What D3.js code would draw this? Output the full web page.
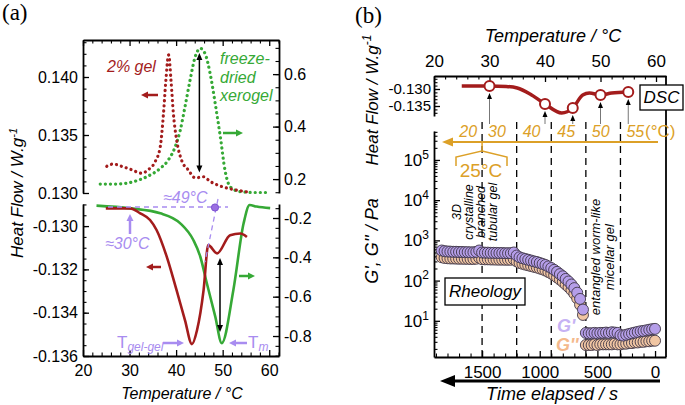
<!DOCTYPE html>
<html><head><meta charset="utf-8">
<script src="https://cdn.jsdelivr.net/npm/d3@7"></script>
<style>
body{margin:0;background:#fff;}
svg{display:block;font-family:"Liberation Sans",Arial,sans-serif;}
</style></head><body>
<script>
// ---------------- DATA ----------------
// Panel (a), upper: dotted curves
const gelTopT  = [25.1,26.5,28.3,30.5,32.6,34.0,35.5,36.6,37.3,37.8,38.4,38.9,39.4,40.1,41.2,42.6,44.1,45.9,47.3,49.5,52.3,55.2];
const gelTopV  = [0.1323,0.1325,0.1323,0.1320,0.1317,0.1320,0.1327,0.1340,0.1369,0.1397,0.1419,0.1397,0.1369,0.1346,0.1328,0.1320,0.1313,0.1314,0.1310,0.1306,0.1303,0.1301];
const xeroTopT = [23.7,27.2,30.8,33.7,36.6,38.3,39.8,40.9,41.9,43.0,44.1,45.2,46.2,47.3,48.4,49.5,50.5,51.6,53.8,56.6,60.2];
const xeroTopV = [0.181,0.181,0.190,0.209,0.241,0.272,0.323,0.387,0.475,0.577,0.666,0.698,0.679,0.603,0.488,0.361,0.234,0.171,0.152,0.149,0.149];
// Panel (a), lower: solid curves
const gelBotT  = [24.9,30.1,32.3,34.4,35.8,38.0,40.1,41.9,43.4,44.5,45.9,46.9,48.8,51.6,53.8,55.2];
const gelBotV  = [-0.12918,-0.12918,-0.12941,-0.12972,-0.13018,-0.13142,-0.13296,-0.13434,-0.13545,-0.1348,-0.13296,-0.13088,-0.13126,-0.13042,-0.13034,-0.1305];
const xeroBotT = [22.9,30.1,36.6,40.9,43.7,45.2,46.6,48.4,49.8,52.3,54.5,55.8,57.3,60.2];
const xeroBotV = [-0.137,-0.151,-0.176,-0.227,-0.312,-0.397,-0.532,-0.70,-0.836,-0.566,-0.227,-0.134,-0.142,-0.15];
// Tick labels
const tempTicks      = [20,30,40,50,60];
const aTopLeftTicks  = [0.130,0.135,0.140];
const aTopRightTicks = [0.2,0.4,0.6];
const aBotLeftTicks  = [-0.130,-0.132,-0.134,-0.136];
const aBotRightTicks = [-0.2,-0.4,-0.6,-0.8];
// Panel (b): DSC
const dscT = [25,30,33,35,37.3,40,43,45,46.8,48,50,52,55];
const dscV = [-0.12912,-0.12912,-0.12926,-0.12971,-0.13147,-0.13441,-0.13706,-0.13559,-0.13176,-0.13118,-0.13176,-0.13118,-0.13088];
const dscMarkT = [30,40,45,50,55];
const dscTicks = [-0.130,-0.135];
// Panel (b): rheology
const stageTimes  = [1500,1200,900,600,300];
const stageLabels = ["20","30","40","45","50","55"];
const timeTicks   = [1500,1000,500,0];
const gExpTicks   = [1,2,3,4,5];
const gTime1 = [1850,1825,1800,1775,1750,1725,1700,1675,1650,1625,1600,1575,1550,1525,1500,1475,1450,1425,1400,1375,1350,1325,1300,1275,1250,1225,1200,1175,1150,1125,1100,1075,1050,1025,1000,975,950,925,900,875,850,825,800,775,750,725,700,675,650,625];
const gP1  = [560,540,530,525,520,520,515,515,510,510,505,505,520,560,500,495,495,490,490,488,485,485,480,480,480,500,420,380,360,345,330,315,300,290,275,260,245,225,205,185,165,145,128,110,95,80,65,50,35,19];
const gPP1 = [380,365,360,355,355,352,350,350,348,348,345,345,350,370,340,338,338,335,335,333,332,332,330,330,330,340,300,275,262,250,240,230,220,212,200,190,178,163,150,135,120,106,93,80,69,58,47,36,25,14];
const gTime2 = [600,575,550,525,500,475,450,425,400,375,350,325,300,275,250,225,200,175,150,125,100,75,50,25,0];
const gP2  = [5.0,4.9,4.9,5.0,4.9,5.0,5.0,5.1,5.0,5.2,5.1,5.0,4.4,4.3,4.5,4.7,4.9,5.1,5.3,5.5,5.6,5.8,6.0,6.2,6.3];
const gPP2 = [2.5,2.5,2.5,2.6,2.5,2.6,2.6,2.6,2.6,2.6,2.7,2.6,2.6,2.7,2.7,2.8,2.8,2.9,2.9,3.0,3.0,3.1,3.1,3.2,3.2];

// ---------------- SETUP ----------------
const W=685,H=405;
const FONT='"Liberation Sans",Arial,sans-serif';
const RED="#a31c1c", GREEN="#36a936", PURPLE="#a88cf0", ORANGE="#dca027";
const svg=d3.select("body").append("svg").attr("width",W).attr("height",H);
svg.append("rect").attr("width",W).attr("height",H).attr("fill","#fff");

const zip=(a,b)=>a.map((v,i)=>[v,b[i]]);

function axis(g, fn, scale, major, minor, fmt, opts={}){
  const {size=16, pad=5, majLen=6, minLen=3.5, showDomain=true}=opts;
  const gm=g.append("g").call(fn(scale).tickValues(minor).tickSizeInner(-minLen).tickSizeOuter(0).tickFormat(""));
  gm.select(".domain").remove();
  gm.selectAll(".tick line").attr("stroke","#000").attr("stroke-width",1.1);
  const gM=g.append("g").call(fn(scale).tickValues(major).tickSizeInner(-majLen).tickSizeOuter(0).tickPadding(pad).tickFormat(fmt||""));
  gM.attr("font-size",size).attr("font-family",FONT);
  gM.selectAll(".tick line").attr("stroke","#000").attr("stroke-width",1.3);
  gM.selectAll(".tick text").attr("fill","#000");
  if(showDomain) gM.select(".domain").attr("stroke","#000").attr("stroke-width",1.8);
  else gM.select(".domain").remove();
  return gM;
}
function arrow(g,x1,y1,x2,y2,o={}){
  const {color="#000",width=1.5,len=7,hw=3.5,both=false,lineColor=null}=o;
  const a=Math.atan2(y2-y1,x2-x1), c=Math.cos(a), s=Math.sin(a);
  const sx= both? x1+c*len*0.7 : x1, sy= both? y1+s*len*0.7 : y1;
  g.append("line").attr("x1",sx).attr("y1",sy).attr("x2",x2-c*len*0.7).attr("y2",y2-s*len*0.7)
    .attr("stroke",lineColor||color).attr("stroke-width",width);
  const head=(x,y,cc,ss)=>{
    const bx=x-cc*len, by=y-ss*len, px=-ss*hw, py=cc*hw;
    g.append("path").attr("d",`M${x},${y}L${bx+px},${by+py}L${bx-px},${by-py}Z`).attr("fill",color);
  };
  head(x2,y2,c,s);
  if(both) head(x1,y1,-c,-s);
}
function txt(g,x,y,t,o={}){
  const {size=16,anchor="start",italic=false,color="#000",family=FONT,weight="normal"}=o;
  return g.append("text").attr("x",x).attr("y",y).attr("font-size",size).attr("text-anchor",anchor)
    .attr("font-style",italic?"italic":"normal").attr("fill",color).attr("font-family",family).attr("font-weight",weight).text(t);
}
function rtxt(g,x,y,t,o={}){
  const e=txt(g,0,0,t,o); e.attr("transform",`translate(${x},${y}) rotate(-90)`); return e;
}
const fmt3=d=>(d<0?"-":"")+Math.abs(d).toFixed(3);
const fmt1=d=>(d<0?"-":"")+Math.abs(d).toFixed(1);

// ================= PANEL (a) =================
const A=svg.append("g");
const xA=d3.scaleLinear().domain([20,62.1]).range([83,279]);
const yAtL=d3.scaleLinear().domain([0.130,0.14319]).range([193,40]);
const yAtR=d3.scaleLinear().domain([0.147,0.73]).range([193,40]);
const yAbL=d3.scaleLinear().domain([-0.136,-0.12898]).range([356,204]);
const yAbR=d3.scaleLinear().domain([-0.9016,-0.1288]).range([356,204]);

const minorT=d3.range(20,62.1,2).filter(v=>v%10!==0);
axis(A.append("g").attr("transform","translate(0,40)"),d3.axisTop,xA,tempTicks,minorT,null);
axis(A.append("g").attr("transform","translate(83,0)"),d3.axisLeft,yAtL,aTopLeftTicks,d3.range(0.131,0.1432,0.001),fmt3);
axis(A.append("g").attr("transform","translate(279,0)"),d3.axisRight,yAtR,aTopRightTicks,d3.range(0.15,0.73,0.05),fmt1);
axis(A.append("g").attr("transform","translate(0,356)"),d3.axisBottom,xA,tempTicks,minorT,d=>d,{pad:9});
axis(A.append("g").attr("transform","translate(83,0)"),d3.axisLeft,yAbL,aBotLeftTicks,d3.range(-0.1355,-0.129,0.0005),fmt3);
axis(A.append("g").attr("transform","translate(279,0)"),d3.axisRight,yAbR,aBotRightTicks,d3.range(-0.9,-0.13,0.05),fmt1);

const dotted=(sel,color)=>sel.attr("fill","none").attr("stroke",color).attr("stroke-width",3.2)
  .attr("stroke-linecap","round").attr("stroke-dasharray","0.1,5");
A.append("path").datum(zip(xeroTopT,xeroTopV))
  .attr("d",d3.line().x(d=>xA(d[0])).y(d=>yAtR(d[1])).curve(d3.curveMonotoneX)).call(dotted,GREEN);
A.append("path").datum(zip(gelTopT,gelTopV))
  .attr("d",d3.line().x(d=>xA(d[0])).y(d=>yAtL(d[1])).curve(d3.curveMonotoneX)).call(dotted,RED);
A.append("path").datum(zip(xeroBotT,xeroBotV))
  .attr("d",d3.line().x(d=>xA(d[0])).y(d=>yAbR(d[1])).curve(d3.curveMonotoneX))
  .attr("fill","none").attr("stroke",GREEN).attr("stroke-width",2.6);
A.append("path").datum(zip(gelBotT,gelBotV))
  .attr("d",d3.line().x(d=>xA(d[0])).y(d=>yAbL(d[1])).curve(d3.curveMonotoneX))
  .attr("fill","none").attr("stroke",RED).attr("stroke-width",2.6);

// annotations (a)
txt(A,2,20,"(a)",{size:23,family:'"Liberation Serif","DejaVu Serif",serif'});
const ya=rtxt(A,23,193,"Heat Flow / W.g",{size:17,italic:true,anchor:"middle"});
ya.append("tspan").attr("dy","-0.55em").attr("font-size",11).text("-1");
txt(A,182,399,"Temperature / °C",{italic:true,anchor:"middle"});
txt(A,107,72,"2% gel",{italic:true,color:RED});
txt(A,220,64,"freeze-",{italic:true,color:GREEN});
txt(A,220,83,"dried",{italic:true,color:GREEN});
txt(A,220,101,"xerogel",{italic:true,color:GREEN});
arrow(A,158,95,141,95,{color:RED,width:2.5,len:7,hw:3.5});
arrow(A,223,133,243,133,{color:GREEN,width:2.5,len:7,hw:3.5});
arrow(A,xA(45),yAtR(0.680),xA(45),yAtR(0.225),{both:true,width:1.5,len:7,hw:3});
arrow(A,161,267,146,267,{color:RED,width:2.5,len:7,hw:3.5});
arrow(A,239,276,255,276,{color:GREEN,width:2.5,len:7,hw:3.5});
arrow(A,220,258,220,332,{both:true,width:1.5,len:7,hw:3});
A.append("line").attr("x1",108).attr("y1",207).attr("x2",228).attr("y2",207)
  .attr("stroke",PURPLE).attr("stroke-width",1.3).attr("stroke-dasharray","5,4");
A.append("line").attr("x1",218).attr("y1",199).attr("x2",205).attr("y2",262)
  .attr("stroke",PURPLE).attr("stroke-width",1.3).attr("stroke-dasharray","5,4");
A.append("circle").attr("cx",215).attr("cy",207.5).attr("r",3.6).attr("fill","#9a6ee2").attr("stroke","#7a4fd0");
txt(A,163,203,"≈49°C",{italic:true,color:PURPLE});
txt(A,105,249,"≈30°C",{italic:true,color:PURPLE});
arrow(A,130,234,130,214,{color:PURPLE,width:2.5,len:7,hw:3.5});
const tg=txt(A,117,348,"T",{size:17,color:PURPLE});
tg.append("tspan").attr("font-size",12).attr("font-style","italic").attr("dy",3).text("gel-gel");
arrow(A,163,343,184,343,{color:PURPLE,width:2.5,len:7,hw:3.5});
arrow(A,247,343,229,343,{color:PURPLE,width:2.5,len:7,hw:3.5});
const tm=txt(A,248,348,"T",{size:17,color:PURPLE});
tm.append("tspan").attr("font-size",12).attr("font-style","italic").attr("dy",3).text("m");

// ================= PANEL (b) =================
const B=svg.append("g");
const xT=d3.scaleLinear().domain([20,61.8]).range([434,666]);
const yD=d3.scaleLinear().domain([-0.13794,-0.12618]).range([116,76]);
const xTime=d3.scaleLinear().domain([1917,-95]).range([434,666]);
const yG=d3.scaleLog().domain([Math.pow(10,0.1),Math.pow(10,5.72)]).range([357,131]);

axis(B.append("g").attr("transform","translate(0,76)"),d3.axisTop,xT,tempTicks,d3.range(22,61.8,2).filter(v=>v%10!==0),d=>d,{pad:9,size:17});
axis(B.append("g").attr("transform","translate(434,0)"),d3.axisLeft,yD,dscTicks,d3.range(-0.137,-0.1265,0.001),fmt3,{size:15,pad:3});
const gMinor=[];
for(let k=0;k<=5;k++) for(let m=2;m<=9;m++){const v=m*Math.pow(10,k); if(v>=Math.pow(10,0.1)&&v<=Math.pow(10,5.72)) gMinor.push(v);}
const gy=axis(B.append("g").attr("transform","translate(434,0)"),d3.axisLeft,yG,gExpTicks.map(e=>Math.pow(10,e)),gMinor,d=>d,{pad:5,size:17});
gy.selectAll(".tick text").each(function(d){
  const t=d3.select(this); t.text(null);
  t.append("tspan").text("10");
  t.append("tspan").attr("dy","-0.6em").attr("font-size",12).text(Math.round(Math.log10(d)));
});
axis(B.append("g").attr("transform","translate(0,357)"),d3.axisBottom,xTime,timeTicks,d3.range(1900,0,-100).filter(v=>v%500!==0),d=>d,{pad:9,size:17});
B.append("line").attr("x1",666).attr("y1",76).attr("x2",666).attr("y2",357).attr("stroke","#000").attr("stroke-width",1.8);

stageTimes.forEach(t=>{
  B.append("line").attr("x1",xTime(t)).attr("x2",xTime(t)).attr("y1",122).attr("y2",357)
    .attr("stroke","#000").attr("stroke-width",1.3).attr("stroke-dasharray","7,5");
});
const mk=(T,V,fill)=>{
  B.append("g").selectAll("circle").data(zip(T,V)).join("circle")
    .attr("cx",d=>xTime(d[0])).attr("cy",d=>yG(d[1])).attr("r",5.5)
    .attr("fill",fill).attr("stroke","#3e3546").attr("stroke-width",0.9);
};
mk(gTime1,gPP1,"#f1c6a3"); mk(gTime2,gPP2,"#f1c6a3");
mk(gTime1,gP1,"#b59ee9");  mk(gTime2,gP2,"#b59ee9");

B.append("path").datum(zip(dscT,dscV))
  .attr("d",d3.line().x(d=>xT(d[0])).y(d=>yD(d[1])).curve(d3.curveMonotoneX))
  .attr("fill","none").attr("stroke",RED).attr("stroke-width",3.5);
const marks=zip(dscT,dscV).filter(d=>dscMarkT.includes(d[0]));
marks.forEach(d=>{
  arrow(B,xT(d[0]),124,xT(d[0]),yD(d[1])+7,{color:"#000",lineColor:"#777",width:1,len:6,hw:2.5});
});
B.append("g").selectAll("circle").data(marks).join("circle")
  .attr("cx",d=>xT(d[0])).attr("cy",d=>yD(d[1])).attr("r",5)
  .attr("fill","#fff").attr("stroke",RED).attr("stroke-width",2);

stageLabels.forEach((l,i)=>{
  if(i===0) txt(B,xTime(stageTimes[0])-5,137,l,{italic:true,color:ORANGE,anchor:"end"});
  else txt(B,xTime(stageTimes[i-1])+6,137,l,{italic:true,color:ORANGE});
});
txt(B,645,137,"(°C)",{size:17,color:ORANGE});
arrow(B,658,142,442,142,{color:ORANGE,width:2,len:11,hw:4.5});
B.append("path").attr("d",`M${xTime(1500)},142V151L456,157V166M${xTime(1500)},151L507,157V166`)
  .attr("fill","none").attr("stroke",ORANGE).attr("stroke-width",1.5);
txt(B,481,177,"25°C",{size:19,color:ORANGE,anchor:"middle"});

B.append("rect").attr("x",640).attr("y",85).attr("width",43).attr("height",25).attr("fill","#fff").attr("stroke","#000").attr("stroke-width",1.3);
txt(B,661.5,103,"DSC",{size:17,italic:true,anchor:"middle"});
B.append("rect").attr("x",445).attr("y",278).attr("width",80).attr("height",27).attr("fill","#fff").attr("stroke","#000").attr("stroke-width",1.3);
txt(B,485,297,"Rheology",{size:17,italic:true,anchor:"middle"});

txt(B,355,23,"(b)",{size:23,family:'"Liberation Serif","DejaVu Serif",serif'});
txt(B,553,42,"Temperature / °C",{size:18,italic:true,anchor:"middle"});
const yb=rtxt(B,378,100,"Heat Flow / W.g",{size:17,italic:true,anchor:"middle"});
yb.append("tspan").attr("dy","-0.55em").attr("font-size",12).text("-1");
rtxt(B,378,241,"G', G'' / Pa",{size:18,italic:true,anchor:"middle"});
rtxt(B,461,212,"3D",{size:12.5,italic:true,anchor:"middle"});
rtxt(B,473,212,"crystalline",{size:12.5,italic:true,anchor:"middle"});
rtxt(B,485,212,"branched",{size:12.5,italic:true,anchor:"middle"});
rtxt(B,497,212,"tubular gel",{size:12.5,italic:true,anchor:"middle"});
rtxt(B,600,257,"entangled worm-like",{size:13,italic:true,anchor:"middle"});
rtxt(B,614,257,"micellar gel",{size:13,italic:true,anchor:"middle"});
txt(B,557,332,"G'",{size:18,italic:true,weight:"bold",color:"#c6b2f4"});
txt(B,556,351,"G''",{size:18,italic:true,weight:"bold",color:"#f4b98c"});
txt(B,552,400,"Time elapsed / s",{size:18,italic:true,anchor:"middle"});
arrow(B,660,381,440,381,{color:"#000",width:3,len:15,hw:6});
</script></body></html>
